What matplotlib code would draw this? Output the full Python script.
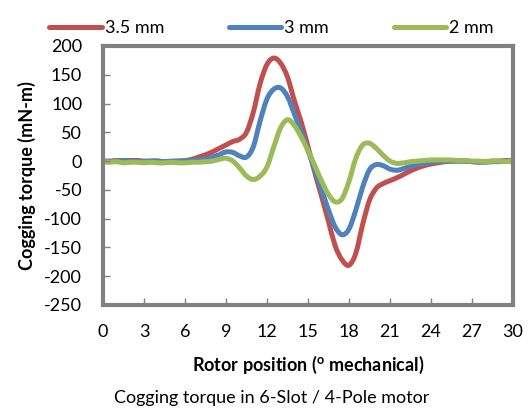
import matplotlib.pyplot as plt
from matplotlib.path import Path
from matplotlib.patches import PathPatch
import numpy as np

# rotor position in degrees mechanical
pos = np.arange(0, 30.5, 0.5)

# cogging torque (mN-m) for each magnet thickness
t35 = [0, 0, 1, 1, 1, 1, 0, 0, 0, -1,
       -1, 0, 1, 3, 7, 11, 16, 22, 28, 34,
       38, 50, 85, 135, 168, 179, 170, 146, 105, 68,
       25, -20, -62, -105, -148, -172, -181, -160, -110, -68,
       -47, -39, -34, -29, -23, -17, -12, -8, -5, -3,
       -1, 0, 0, 0, -1, -2, -1, 0, 0, 1, 0]
t3 = [0, -1, 0, 1, 0, 0, -1, 0, 0, -1,
      0, 0, 0, 1, 2, 4, 7, 11, 16, 15,
      9, 7, 25, 70, 108, 125, 127, 112, 82, 50,
      18, -15, -50, -85, -115, -128, -118, -85, -45, -15,
      -6, -8, -14, -16, -13, -9, -6, -4, -2, -1,
      0, 0, 0, 0, -1, -1, -2, -1, -1, 0, 0]
t2 = [-1, -2, -1, -3, -2, -2, -3, -2, -3, -3,
      -2, -3, -3, -2, -2, -1, 0, 3, 5, 0,
      -12, -26, -32, -26, -10, 25, 58, 72, 62, 42,
      18, -8, -35, -58, -71, -65, -35, 5, 28, 31,
      22, 10, 0, -4, -3, -1, 0, 1, 2, 2,
      2, 2, 1, 1, 0, 0, -1, 0, 0, -1, 0]

labels = ['3.5 mm', '3 mm', '2 mm']
colors = ['#C0504D', '#4F81BD', '#9BBB59']
xticks = list(range(0, 31, 3))
yticks = list(range(-250, 201, 50))


def smooth_path(x, y, k=1/6):
    # bezier path through the data points (like a smoothed Excel line)
    x = np.asarray(x, float)
    y = np.asarray(y, float)
    n = len(x)
    verts = [(x[0], y[0])]
    codes = [Path.MOVETO]
    for i in range(n - 1):
        i0 = max(i - 1, 0)
        i3 = min(i + 2, n - 1)
        c1 = (x[i] + (x[i + 1] - x[i0]) * k, y[i] + (y[i + 1] - y[i0]) * k)
        c2 = (x[i + 1] - (x[i3] - x[i]) * k, y[i + 1] - (y[i3] - y[i]) * k)
        verts += [c1, c2, (x[i + 1], y[i + 1])]
        codes += [Path.CURVE4] * 3
    return Path(verts, codes)


plt.rcParams['font.family'] = ['Lato', 'DejaVu Sans']
plt.rcParams['axes.unicode_minus'] = False

fig = plt.figure(figsize=(5.32, 4.08), dpi=100)
ax = fig.add_axes([0.1936, 0.2525, 0.7707, 0.6348])

for ys, lab, c in zip([t35, t3, t2], labels, colors):
    ax.plot([], [], color=c, lw=3.6, label=lab, solid_capstyle='round')
    ax.add_patch(PathPatch(smooth_path(pos, ys), facecolor='none', edgecolor=c,
                           lw=3.6, capstyle='round', joinstyle='round'))

ax.set_xlim(0, 30)
ax.set_ylim(-250, 200)
ax.set_xticks(xticks)
ax.set_yticks(yticks)
ax.tick_params(direction='in', length=5, width=1, color='#808080', labelsize=13)
ax.tick_params(axis='y', pad=15)
ax.tick_params(axis='x', pad=14)
for s in ax.spines.values():
    s.set_color('#808080')
    s.set_linewidth(3)

ax.set_ylabel('Cogging torque (mN-m)', fontsize=13, fontweight='bold', labelpad=6)
ax.set_xlabel('Rotor position ($^{\\mathregular{o}}$ mechanical)', fontsize=13, fontweight='bold', labelpad=10)
fig.text(0.51, 0.005, 'Cogging torque in 6-Slot / 4-Pole motor', ha='center', va='bottom', fontsize=13)

fig.legend(loc='upper center', bbox_to_anchor=(0.51, 0.99), ncol=3, frameon=False,
           handlelength=2.9, handletextpad=0.15, columnspacing=3.6, fontsize=13)

fig.savefig('out.png', dpi=100)
